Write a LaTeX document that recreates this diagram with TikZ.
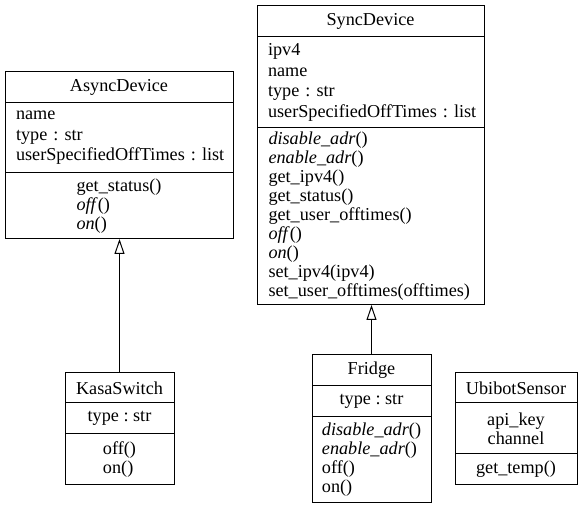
\documentclass[tikz,border=0pt]{standalone}
\usepackage{fontspec}
\setmainfont{Liberation Serif}
\usetikzlibrary{positioning, arrows.meta}

\tikzset{
  box/.style={draw, line width=1bp, inner sep=0pt, outer sep=0pt},
  title/.style={box, align=center},
  fields/.style={box, align=left},
  wide/.style={font=\fontsize{18.2bp}{20.5bp}\selectfont\frenchspacing},
  inherit/.style={line width=1bp, -{Triangle[open, length=15bp, width=10bp]}},
}

\begin{document}
\begin{tikzpicture}[x=1bp, y=1bp, font=\fontsize{18.2bp}{19bp}\selectfont\frenchspacing]
\useasboundingbox (0,0) rectangle (583,508);

% AsyncDevice
\node[title, anchor=north west, minimum width=228bp, minimum height=31bp] (async) at (5,436) {AsyncDevice};
\node[fields, wide, below=0pt of async, minimum width=228bp, minimum height=70bp, text width=206bp] (asyncattr) {name\\type~:~str\\userSpecifiedOffTimes~:~list};
\node[fields, below=0pt of asyncattr, minimum width=228bp, minimum height=66bp] (asyncops) {get\_status()\\\textit{off}()\\\textit{on}()};

% SyncDevice
\node[title, anchor=north west, minimum width=227bp, minimum height=31bp] (sync) at (257,502) {SyncDevice};
\node[fields, wide, below=0pt of sync, minimum width=227bp, minimum height=91bp, text width=205bp] (syncattr) {ipv4\\name\\type~:~str\\userSpecifiedOffTimes~:~list};
\node[fields, below=0pt of syncattr, minimum width=227bp, minimum height=177bp, text width=204bp] (syncops) {\textit{disable\_adr}()\\\textit{enable\_adr}()\\get\_ipv4()\\get\_status()\\get\_user\_offtimes()\\\textit{off}()\\\textit{on}()\\set\_ipv4(ipv4)\\set\_user\_offtimes(offtimes)};

% KasaSwitch
\node[title, anchor=north west, minimum width=109bp, minimum height=30bp] (kasa) at (65,135) {KasaSwitch};
\node[title, below=0pt of kasa, minimum width=109bp, minimum height=31bp] (kasaattr) {type : str};
\node[fields, below=0pt of kasaattr, minimum width=109bp, minimum height=51bp] (kasaops) {off()\\on()};

% Fridge
\node[title, anchor=north west, minimum width=119bp, minimum height=31bp] (fridge) at (312,153) {Fridge};
\node[title, below=0pt of fridge, minimum width=119bp, minimum height=31bp] (fridgeattr) {type : str};
\node[fields, below=0pt of fridgeattr, minimum width=119bp, minimum height=85bp] (fridgeops) {\textit{disable\_adr}()\\\textit{enable\_adr}()\\off()\\on()};

% UbibotSensor
\node[title, anchor=north west, minimum width=122bp, minimum height=30bp] (ubibot) at (455,135) {UbibotSensor};
\node[title, below=0pt of ubibot, minimum width=122bp, minimum height=51bp] (ubibotattr) {api\_key\\channel};
\node[title, below=0pt of ubibotattr, minimum width=122bp, minimum height=31bp] (ubibotops) {get\_temp()};

% inheritance
\draw[inherit] (kasa.north) -- (kasa.north |- asyncops.south);
\draw[inherit] (fridge.north) -- (fridge.north |- syncops.south);
\end{tikzpicture}
\end{document}
